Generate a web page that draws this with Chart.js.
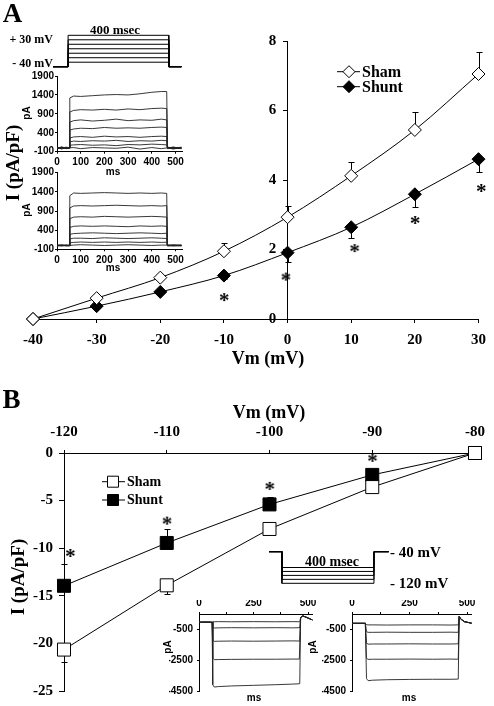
<!DOCTYPE html>
<html>
<head>
<meta charset="utf-8">
<script src="https://cdn.jsdelivr.net/npm/chart.js@4.4.1/dist/chart.umd.min.js"></script>
<style>
  body { margin: 0; background: #fff; }
  #page { position: relative; width: 494px; height: 706px; overflow: hidden; background: #fff; }
  #page canvas { position: absolute; left: 0; top: 0; }
  .txt { position: absolute; white-space: nowrap; color: #000; }
</style>
</head>
<body>
<div id="page">
  <canvas id="mainA" width="494" height="706"></canvas>
  <canvas id="protoA" width="494" height="706"></canvas>
  <canvas id="traceA1" width="494" height="706"></canvas>
  <canvas id="traceA2" width="494" height="706"></canvas>
  <canvas id="mainB" width="494" height="706"></canvas>
  <canvas id="protoB" width="494" height="706"></canvas>
  <canvas id="traceB1" width="494" height="706"></canvas>
  <canvas id="traceB2" width="494" height="706"></canvas>
</div>
<script>
// ---- panel A : I-V, depolarising steps
const vmA = [-40, -30, -20, -10, 0, 10, 20, 30];
const shamA = [0, 0.60, 1.19, 1.95, 2.93, 4.12, 5.44, 7.05];
const shuntA = [0, 0.37, 0.78, 1.25, 1.91, 2.64, 3.59, 4.60];
const shamErrA = [0, 0.05, 0.06, 0.24, 0.32, 0.41, 0.53, 0.64];
const shuntErrA = [0, 0.04, 0.05, 0.10, 0.26, 0.31, 0.36, 0.37];
const starAx = [-10, -0.3, 10.5, 20, 30.4];
const starAy = [0.63, 1.22, 2.04, 2.85, 3.77];
const ticksAx = [-40, -30, -20, -10, 0, 10, 20, 30];
const ticksAy = [0, 2, 4, 6, 8];

// ---- panel B : I-V, hyperpolarising steps
const vmB = [-120, -110, -100, -90, -80];
const shamB = [-20.65, -13.9, -7.98, -3.58, 0];
const shuntB = [-13.95, -9.45, -5.4, -2.3, 0];
const shamErrB = [1.3, 0.9, 0.2, 0.1, 0];
const shuntErrB = [2.3, 1.5, 0.8, 0.3, 0];
const starBx = [-119.4, -110, -100, -90];
const starBy = [-10.5, -7.1, -3.45, -0.5];
const ticksBx = [-120, -110, -100, -90, -80];
const ticksBy = [0, -5, -10, -15, -20, -25];

// ---- voltage protocols (ms, mV)
const protoTimeA = [0, 60, 60, 460, 460, 510];
const holdA = -40;
const stepsA = [-30, -20, -10, 0, 10, 20, 30];
const protoTimeB = [0, 56, 56, 456, 456, 520];
const holdB = -40;
const stepsB = [-80, -90, -100, -110, -120];

// ---- current traces, panel A insets (ms, pA)
const tA = [0, 20, 40, 52, 54, 70, 100, 150, 200, 250, 300, 350, 400, 440, 463, 466, 490, 525];
const shamTraces = [
  [20, -30, 10, 0, 1320, 1370, 1360, 1380, 1400, 1410, 1400, 1430, 1470, 1490, 1490, 10, -20, 10],
  [0, 20, -20, 10, 950, 990, 1010, 1000, 1020, 1000, 1030, 1010, 1040, 1050, 1040, -10, 20, -10],
  [-10, 20, 0, -10, 680, 720, 740, 710, 730, 760, 720, 740, 730, 760, 740, 0, -10, 20],
  [10, -20, 10, 0, 470, 500, 520, 510, 540, 520, 530, 520, 540, 550, 540, 20, 0, -20],
  [0, 10, -10, 0, 260, 290, 300, 280, 310, 290, 300, 280, 300, 310, 300, -20, 10, 0],
  [-20, 0, 20, 0, 160, 180, 170, 190, 180, 200, 170, 190, 180, 200, 190, 10, -30, 10],
  [10, -10, 0, 10, 70, 80, 90, 70, 80, 60, 90, 80, 100, 90, 80, 0, 20, -10],
  [0, 20, -10, 0, 0, 10, -20, 10, 0, -10, 20, -30, 10, -20, 0, -10, 10, 0]
];
const shuntTraces = [
  [0, 10, -10, 0, 1300, 1370, 1360, 1370, 1380, 1370, 1360, 1370, 1360, 1370, 1360, 10, 0, -10],
  [10, 0, 0, -10, 980, 1030, 1040, 1030, 1040, 1050, 1040, 1030, 1040, 1030, 1040, 0, 10, 0],
  [0, -10, 10, 0, 700, 740, 750, 740, 760, 750, 740, 750, 760, 750, 740, -10, 0, 10],
  [-10, 0, 10, 0, 470, 500, 510, 500, 510, 500, 490, 510, 500, 510, 500, 10, -10, 0],
  [0, 10, 0, -10, 290, 310, 320, 330, 320, 310, 320, 330, 320, 310, 320, 0, 10, -10],
  [10, 0, -10, 0, 170, 190, 190, 180, 200, 190, 180, 190, 200, 190, 180, -10, 0, 10],
  [0, -10, 0, 10, 70, 80, 90, 80, 90, 80, 90, 80, 90, 80, 85, 0, -10, 0],
  [-10, 10, 0, 0, 0, 10, 20, 10, 0, 10, 20, 10, 0, 10, 10, 0, 10, 0]
];
const traceTicksAx = [0, 100, 200, 300, 400, 500];
const traceTicksAy = [-100, 400, 900, 1400, 1900];

// ---- current traces, panel B insets (ms, pA)
const tB = [0, 30, 58, 60, 63, 70, 90, 150, 250, 350, 430, 460, 462, 466, 475, 490, 520];
const leftTraces = [
  [-30, -20, -30, -30, 10, 0, 10, 0, 10, 0, 10, 0, 10, 250, 380, 300, 120],
  [-30, -20, -30, -30, -370, -400, -390, -380, -390, -380, -390, -380, -390, 250, 380, 300, 120],
  [-30, -20, -30, -30, -1180, -1260, -1250, -1240, -1250, -1240, -1230, -1240, -1230, 250, 380, 300, 120],
  [-30, -20, -30, -30, -2330, -2440, -2430, -2420, -2410, -2410, -2400, -2400, -2400, 250, 380, 300, 120],
  [-30, -20, -30, -30, -4050, -4200, -4170, -4130, -4090, -4050, -4010, -3990, -3980, 250, 380, 300, 120]
];
const rightTraces = [
  [-100, -100, -100, -100, -190, -200, -200, -210, -200, -200, -210, -200, -200, 330, 150, 0, -90],
  [-100, -100, -100, -100, -640, -680, -680, -670, -680, -680, -670, -680, -680, 330, 150, 0, -90],
  [-100, -100, -100, -100, -1380, -1440, -1430, -1430, -1420, -1430, -1430, -1420, -1430, 330, 150, 0, -90],
  [-100, -100, -100, -100, -2350, -2420, -2410, -2410, -2400, -2410, -2400, -2410, -2410, 330, 150, 0, -90],
  [-100, -100, -100, -100, -3650, -3790, -3760, -3730, -3710, -3700, -3700, -3690, -3690, 330, 150, 0, -90]
];
const traceTicksBx = [0, 125, 250, 375, 500];
const traceTicksBy = [-4500, -2500, -500];

const serif = '"Liberation Serif", "Times New Roman", serif';
const sans = '"Liberation Sans", Arial, sans-serif';

const pts = (xs, ys) => xs.map((x, i) => ({ x, y: ys[i] }));
const fixTicks = (vals) => (s) => { s.ticks = vals.map((v) => ({ value: v })); };
const box = (l, t, r, b) => ({ left: l, top: t, right: 494 - r, bottom: 706 - b });

const starImage = (size) => {
  const c = document.createElement('canvas');
  c.width = 16;
  c.height = 16;
  const g = c.getContext('2d');
  g.font = `bold ${size}px ${serif}`;
  const m = g.measureText('*');
  const ox = 8 - (m.actualBoundingBoxRight - m.actualBoundingBoxLeft) / 2;
  const oy = 8 + (m.actualBoundingBoxAscent - m.actualBoundingBoxDescent) / 2;
  g.fillStyle = '#000';
  g.fillText('*', ox, oy);
  return c;
};

// error bars drawn under the markers
const errBars = (sets) => ({
  id: 'errBars',
  beforeDatasetsDraw(chart) {
    const { ctx, scales: { x, y } } = chart;
    ctx.save();
    ctx.strokeStyle = '#000';
    ctx.lineWidth = 1;
    sets.forEach(({ xs, ys, err, dir }) => {
      xs.forEach((xv, i) => {
        if (!err[i]) return;
        const px = Math.round(x.getPixelForValue(xv)) + 0.5;
        const y0 = y.getPixelForValue(ys[i]);
        const y1 = Math.round(y.getPixelForValue(ys[i] + dir * err[i])) + 0.5;
        ctx.beginPath();
        ctx.moveTo(px, y0);
        ctx.lineTo(px, y1);
        ctx.moveTo(px - 3, y1);
        ctx.lineTo(px + 3, y1);
        ctx.stroke();
      });
    });
    ctx.restore();
  }
});

// little legend inside the plot
const legendMarks = (rows) => ({
  id: 'legendMarks',
  afterDraw(chart) {
    const ctx = chart.ctx;
    ctx.save();
    ctx.strokeStyle = '#000';
    ctx.lineWidth = 1;
    rows.forEach((r) => {
      const ds = chart.data.datasets[r.ds];
      ctx.beginPath();
      ctx.moveTo(r.x0, r.y);
      ctx.lineTo(r.x1, r.y);
      ctx.stroke();
      ctx.beginPath();
      if (ds.pointStyle === 'rectRot') {
        ctx.moveTo(r.cx, r.y - r.s);
        ctx.lineTo(r.cx + r.s, r.y);
        ctx.lineTo(r.cx, r.y + r.s);
        ctx.lineTo(r.cx - r.s, r.y);
        ctx.closePath();
      } else {
        ctx.rect(r.cx - r.s, r.y - r.s, 2 * r.s, 2 * r.s);
      }
      ctx.fillStyle = ds.pointBackgroundColor;
      ctx.fill();
      ctx.stroke();
    });
    ctx.restore();
  }
});

const lineDs = {
  borderColor: '#000',
  borderWidth: 1,
  pointBorderColor: '#000',
  pointBorderWidth: 1,
  clip: false
};
const axisLine = { display: true, color: '#000', width: 1 };
const noGrid = (tl) => ({ drawOnChartArea: false, drawTicks: true, tickLength: tl, color: '#000' });
const base = { animation: false, responsive: false, events: [] };
const quiet = { legend: { display: false }, tooltip: { enabled: false } };
const mainTick = { family: serif, size: 15, weight: 'bold' };
const smallTick = { family: sans, size: 10, weight: 'bold' };
const plain = (v) => String(v);

// ---------- panel A main
new Chart('mainA', {
  type: 'line',
  data: {
    datasets: [
      { ...lineDs, data: pts(vmA, shamA), pointStyle: 'rectRot', pointRadius: 6.5, pointBackgroundColor: '#fff', cubicInterpolationMode: 'monotone' },
      { ...lineDs, data: pts(vmA, shuntA), pointStyle: 'rectRot', pointRadius: 6.5, pointBackgroundColor: '#000', cubicInterpolationMode: 'monotone' },
      { data: pts(starAx, starAy), showLine: false, pointStyle: starImage(21), pointRadius: 6, clip: false }
    ]
  },
  options: {
    ...base,
    layout: { padding: box(33, 41, 484, 349) },
    plugins: quiet,
    scales: {
      x: {
        type: 'linear', min: -40, max: 30,
        afterFit: (s) => { s.height = 30; },
        afterBuildTicks: fixTicks(ticksAx),
        grid: noGrid(4), border: axisLine,
        ticks: { padding: 8, font: mainTick, color: '#000', maxRotation: 0, autoSkip: false, callback: plain }
      },
      y: {
        type: 'linear', min: 0, max: 8, position: { x: 0 },
        afterBuildTicks: fixTicks(ticksAy),
        grid: noGrid(4), border: axisLine,
        // axis sits at Vm = 0, labels need their own gap from the line
        ticks: { padding: 8, font: mainTick, color: '#000', callback: (v) => v + '\u2002 ' }
      }
    }
  },
  plugins: [
    errBars([
      { xs: vmA, ys: shamA, err: shamErrA, dir: 1 },
      { xs: vmA, ys: shuntA, err: shuntErrA, dir: -1 }
    ]),
    legendMarks([
      { ds: 0, x0: 337, x1: 360, cx: 349, y: 71.7, s: 6 },
      { ds: 1, x0: 337, x1: 360, cx: 349, y: 86.7, s: 6 }
    ])
  ]
});

// ---------- panel B main
new Chart('mainB', {
  type: 'line',
  data: {
    datasets: [
      { ...lineDs, data: pts(vmB, shamB), pointStyle: 'rect', pointRadius: 9.2, pointBackgroundColor: '#fff', tension: 0 },
      { ...lineDs, data: pts(vmB, shuntB), pointStyle: 'rect', pointRadius: 9.2, pointBackgroundColor: '#000', tension: 0 },
      { data: pts(starBx, starBy), showLine: false, pointStyle: starImage(21), pointRadius: 6, clip: false }
    ]
  },
  options: {
    ...base,
    layout: { padding: box(24, 423, 478, 700) },
    plugins: quiet,
    scales: {
      x: {
        type: 'linear', min: -120, max: -80, position: 'top',
        afterFit: (s) => { s.height = 30; },
        afterBuildTicks: fixTicks(ticksBx),
        grid: noGrid(3), border: axisLine,
        ticks: { padding: 9, font: mainTick, color: '#000', maxRotation: 0, autoSkip: false, callback: plain }
      },
      y: {
        type: 'linear', min: -25, max: 0,
        afterFit: (s) => { s.width = 40; },
        afterBuildTicks: fixTicks(ticksBy),
        grid: noGrid(5), border: axisLine,
        ticks: { padding: 6, font: mainTick, color: '#000', callback: plain }
      }
    }
  },
  plugins: [
    errBars([
      { xs: vmB, ys: shamB, err: shamErrB, dir: -1 },
      { xs: vmB, ys: shuntB, err: shuntErrB, dir: 1 }
    ]),
    legendMarks([
      { ds: 0, x0: 102, x1: 125, cx: 113, y: 481.7, s: 5.5 },
      { ds: 1, x0: 102, x1: 125, cx: 113, y: 500, s: 5.5 }
    ])
  ]
});

// ---------- voltage protocols
const protoChart = (id, t, hold, steps, xMax, yMin, yMax, pad) => new Chart(id, {
  type: 'line',
  data: {
    datasets: steps.map((v) => ({
      data: pts(t, [hold, hold, v, v, hold, hold]),
      borderColor: '#000', borderWidth: 1, pointRadius: 0, tension: 0, clip: false
    }))
  },
  options: {
    ...base,
    layout: { padding: pad },
    plugins: quiet,
    scales: {
      x: { type: 'linear', min: 0, max: xMax, display: false },
      y: { type: 'linear', min: yMin, max: yMax, display: false }
    }
  }
});
protoChart('protoA', protoTimeA, holdA, stepsA, 510, -40, 30, box(53, 35.3, 181.4, 66.7));
protoChart('protoB', protoTimeB, holdB, stepsB, 520, -120, -40, box(269, 551.7, 388.7, 583.3));

// ---------- current traces
const traceChart = (id, t, traces, o) => new Chart(id, {
  type: 'line',
  data: {
    datasets: traces.map((v) => ({
      data: pts(t, v), borderColor: '#222', borderWidth: 0.9, pointRadius: 0, tension: 0, clip: false
    }))
  },
  options: {
    ...base,
    layout: { padding: o.pad },
    plugins: quiet,
    scales: {
      x: {
        type: 'linear', min: 0, max: o.xMax, position: o.xPos,
        afterFit: (s) => { s.height = o.xh; },
        afterBuildTicks: fixTicks(o.xTicks),
        grid: noGrid(2), border: axisLine,
        ticks: { padding: o.xPad, font: smallTick, color: '#000', maxRotation: 0, autoSkip: false, callback: o.xLabel }
      },
      y: {
        type: 'linear', min: o.yMin, max: o.yMax,
        afterFit: (s) => { s.width = o.yw; },
        afterBuildTicks: fixTicks(o.yTicks),
        grid: noGrid(2), border: axisLine,
        ticks: { padding: o.yPad, font: smallTick, color: '#000', callback: plain }
      }
    }
  }
});

const insetA = {
  xMax: 530, xPos: 'bottom', xh: 14, xPad: 3, xTicks: traceTicksAx,
  yMin: -100, yMax: 1900, yw: 25, yPad: 1, yTicks: traceTicksAy,
  xLabel: plain
};
traceChart('traceA1', tA, shamTraces, { ...insetA, pad: box(32, 76, 182.6, 165.7) });
traceChart('traceA2', tA, shuntTraces, { ...insetA, pad: box(32, 172.7, 182.6, 263.3) });

const insetB = {
  xMax: 520, xPos: 'top', xh: 14, xPad: 3, xTicks: traceTicksBx,
  yMin: -4500, yMax: 500, yw: 30, yPad: 4, yTicks: traceTicksBy,
  xLabel: (v) => (v % 250 === 0 ? String(v) : '')
};
traceChart('traceB1', tB, leftTraces, { ...insetB, pad: box(169, 600, 312.4, 691.7) });
traceChart('traceB2', tB, rightTraces, { ...insetB, pad: box(322, 600, 471.6, 691.7) });

// ---------- text
const notes = [
  ['A', 12.5, 13, `bold 27px/1 ${serif}`, 'c'],
  ['B', 11.5, 399, `bold 27px/1 ${serif}`, 'c'],
  ['I (pA/pF)', 12, 163, `bold 19px/1 ${serif}`, 'c', true],
  ['Vm (mV)', 268, 358, `bold 18px/1 ${serif}`, 'c'],
  ['Sham', 362, 71.7, `bold 16px/1 ${serif}`, 'l'],
  ['Shunt', 362, 86.7, `bold 16px/1 ${serif}`, 'l'],
  ['400 msec', 115, 29, `bold 13px/1 ${serif}`, 'c'],
  ['+ 30 mV', 53, 39.3, `bold 12px/1 ${serif}`, 'r'],
  ['- 40 mV', 53, 63.3, `bold 12px/1 ${serif}`, 'r'],
  ['pA', 26.7, 113.3, `bold 10px/1 ${sans}`, 'c', true],
  ['ms', 113, 172, `bold 10px/1 ${sans}`, 'c'],
  ['pA', 26.7, 210, `bold 10px/1 ${sans}`, 'c', true],
  ['ms', 113, 268.3, `bold 10px/1 ${sans}`, 'c'],
  ['Vm (mV)', 269, 411.7, `bold 18px/1 ${serif}`, 'c'],
  ['I (pA/pF)', 17, 577, `bold 19px/1 ${serif}`, 'c', true],
  ['Sham', 127, 481.7, `bold 14px/1 ${serif}`, 'l'],
  ['Shunt', 127, 500, `bold 14px/1 ${serif}`, 'l'],
  ['400 msec', 332, 562, `bold 14px/1 ${serif}`, 'c'],
  ['- 40 mV', 390, 551.7, `bold 15px/1 ${serif}`, 'l'],
  ['- 120 mV', 390, 583, `bold 15px/1 ${serif}`, 'l'],
  ['pA', 168, 647, `bold 10px/1 ${sans}`, 'c', true],
  ['ms', 254, 698.3, `bold 10px/1 ${sans}`, 'c'],
  ['pA', 313.3, 647, `bold 10px/1 ${sans}`, 'c', true],
  ['ms', 409, 698, `bold 10px/1 ${sans}`, 'c']
];
const page = document.getElementById('page');
notes.forEach(([text, x, y, font, align, rot]) => {
  const d = document.createElement('div');
  d.className = 'txt';
  d.textContent = text;
  d.style.font = font;
  d.style.left = x + 'px';
  d.style.top = y + 'px';
  const tx = align === 'l' ? '0' : align === 'r' ? '-100%' : '-50%';
  d.style.transform = `translate(${tx}, -50%)` + (rot ? ' rotate(-90deg)' : '');
  page.appendChild(d);
});
</script>
</body>
</html>
